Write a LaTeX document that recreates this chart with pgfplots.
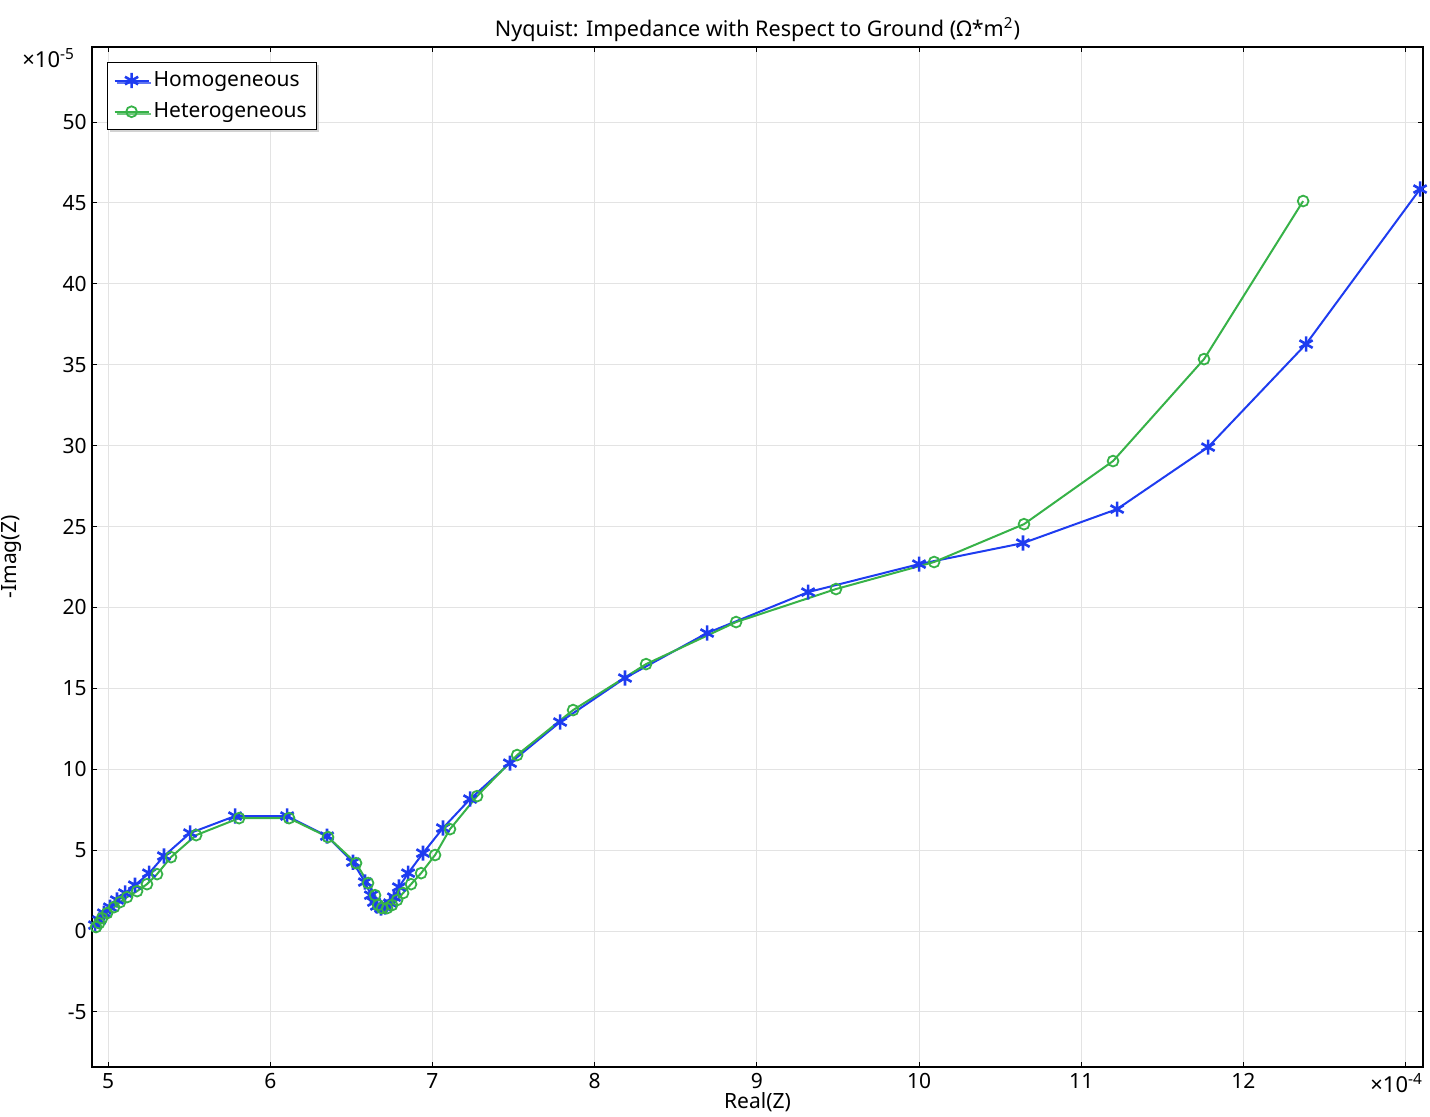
\documentclass[border=0pt]{standalone}
\usepackage{fontspec}
\setmainfont{Noto Sans}
\usepackage{pgfplots}
\pgfplotsset{compat=1.18}
\usetikzlibrary{shadows}
\definecolor{cblue}{RGB}{30,60,240}
\definecolor{cgreen}{RGB}{55,178,72}
\begin{document}
\fontsize{10.5}{12.6}\selectfont
\begin{tikzpicture}
\path[use as bounding box] (-46pt,-24.5pt) rectangle (669pt,533.5pt);
\begin{axis}[
  at={(0,0)}, anchor=south west,
  scale only axis, width=665.5pt, height=510pt,
  xmin=4.901, xmax=13.107, ymin=-8.4, ymax=54.64,
  xtick={5,...,13}, xticklabels={5,6,7,8,9,10,11,12,{}},
  ytick={-5,0,...,50},
  tick align=inside, major tick length=2.5pt,
  tick style={black, line width=0.5pt},
  grid=major, grid style={gray!22, line width=0.5pt},
  axis line style={black, line width=0.6pt},
  /pgf/number format/assume math mode=true,
  tick label style={inner sep=0pt},
  yticklabel shift=2.5pt, xticklabel shift=3pt,
  every axis title shift=0pt,
  title={Nyquist: Impedance with Respect to Ground (Ω*m\textsuperscript{2})},
  title style={at={(axis description cs:0.5,1.0167)}, anchor=center, inner sep=0pt, font=\fontsize{10.8}{13}\selectfont},
  xlabel={Real(Z)},
  xlabel style={at={(axis description cs:0.5,-0.0343)}, anchor=center, inner sep=0pt},
  ylabel={-Imag(Z)},
  ylabel style={at={(axis description cs:-0.0601,0.5)}, anchor=center, inner sep=0pt},
  legend cell align=left,
  legend style={at={(axis description cs:0.01127,0.98529)}, anchor=north west,
    draw=black, line width=0.5pt, fill=white, inner xsep=3pt, inner ysep=2.5pt,
    row sep=2.5pt,
    drop shadow={shadow xshift=1.2pt, shadow yshift=-1.2pt, fill=gray!50, opacity=0.7}},
]
\addplot[cblue, line width=1pt, mark=asterisk, mark size=3.8pt, mark options={line width=1.3pt}] coordinates {
(4.920,0.37) (4.945,0.68) (4.975,1.11) (5.012,1.48) (5.055,1.92) (5.105,2.35)
(5.166,2.84) (5.253,3.58) (5.345,4.64) (5.506,6.06) (5.783,7.11) (6.104,7.11)
(6.350,5.87) (6.510,4.26) (6.584,3.03) (6.621,2.22) (6.640,1.79) (6.658,1.55)
(6.683,1.42) (6.708,1.48) (6.739,1.73) (6.763,2.10) (6.794,2.72) (6.850,3.58)
(6.942,4.82) (7.065,6.37) (7.232,8.16) (7.478,10.38) (7.787,12.92) (8.187,15.64)
(8.693,18.42) (9.316,20.95) (10.000,22.68) (10.641,23.98) (11.221,26.08)
(11.782,29.91) (12.386,36.28) (13.089,45.86)
};
\addlegendentry{Homogeneous}
\addplot[cgreen, line width=1pt, mark=o, mark size=2.7pt, mark options={line width=0.9pt}] coordinates {
(4.926,0.25) (4.945,0.49) (4.963,0.80) (4.994,1.11) (5.037,1.48) (5.074,1.79)
(5.117,2.10) (5.179,2.47) (5.240,2.90) (5.302,3.52) (5.388,4.57) (5.543,5.93)
(5.808,6.98) (6.116,6.98) (6.356,5.81) (6.529,4.20) (6.603,2.97) (6.646,2.22)
(6.665,1.61) (6.689,1.42) (6.720,1.42) (6.751,1.61) (6.782,1.92) (6.819,2.35)
(6.868,2.90) (6.930,3.58) (7.016,4.70) (7.108,6.30) (7.275,8.34) (7.522,10.88)
(7.867,13.66) (8.317,16.50) (8.872,19.10) (9.488,21.14) (10.093,22.81)
(10.647,25.15) (11.196,29.05) (11.757,35.35) (12.368,45.12)
};
\addlegendentry{Heterogeneous}
\end{axis}
\node[anchor=west, inner sep=0pt, font=\fontsize{11}{13}\selectfont] at (-35pt,504.5pt) {×10\textsuperscript{-5}};
\node[anchor=west, inner sep=0pt, font=\fontsize{11}{13}\selectfont] at (639pt,-8pt) {×10\textsuperscript{-4}};
\end{tikzpicture}
\end{document}
